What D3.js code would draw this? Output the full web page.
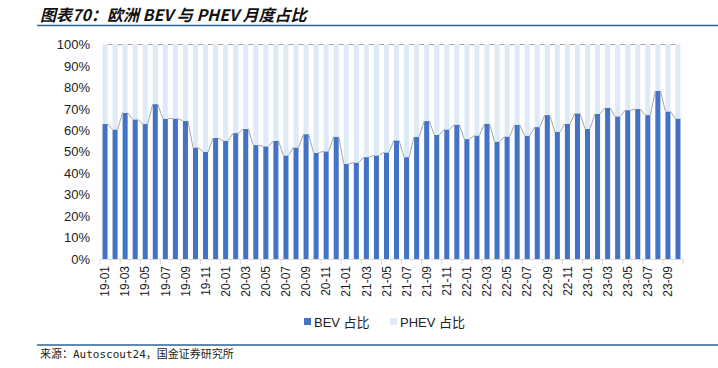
<!DOCTYPE html>
<html>
<head>
<meta charset="utf-8">
<script src="https://cdn.jsdelivr.net/npm/d3@7"></script>
<style>
  body { margin: 0; background: #fff; }
  svg { display: block; }
</style>
</head>
<body>
<script>
// monthly share of BEV vs PHEV in Europe, 2019-01 .. 2023-10
var months = ["19-01","19-02","19-03","19-04","19-05","19-06","19-07","19-08","19-09","19-10","19-11","19-12",
              "20-01","20-02","20-03","20-04","20-05","20-06","20-07","20-08","20-09","20-10","20-11","20-12",
              "21-01","21-02","21-03","21-04","21-05","21-06","21-07","21-08","21-09","21-10","21-11","21-12",
              "22-01","22-02","22-03","22-04","22-05","22-06","22-07","22-08","22-09","22-10","22-11","22-12",
              "23-01","23-02","23-03","23-04","23-05","23-06","23-07","23-08","23-09","23-10"];

var bevShare = [63.0,60.4,68.2,65.1,63.0,72.2,65.4,65.5,64.4,52.0,50.0,56.4,
                55.1,58.7,60.6,53.1,52.5,55.1,48.3,52.0,58.2,49.5,50.2,57.0,
                44.4,45.0,47.5,48.3,49.7,55.3,47.5,57.0,64.3,57.9,60.4,62.6,
                55.9,57.6,63.1,54.7,57.1,62.6,57.5,61.5,67.1,59.2,63.0,67.9,
                60.7,67.7,70.5,66.5,69.4,69.9,67.1,78.4,68.8,65.5];

var phevShare = [37.0,39.6,31.8,34.9,37.0,27.8,34.6,34.5,35.6,48.0,50.0,43.6,
                 44.9,41.3,39.4,46.9,47.5,44.9,51.7,48.0,41.8,50.5,49.8,43.0,
                 55.6,55.0,52.5,51.7,50.3,44.7,52.5,43.0,35.7,42.1,39.6,37.4,
                 44.1,42.4,36.9,45.3,42.9,37.4,42.5,38.5,32.9,40.8,37.0,32.1,
                 39.3,32.3,29.5,33.5,30.6,30.1,32.9,21.6,31.2,34.5];

var yTicks = [0,10,20,30,40,50,60,70,80,90,100];
var seriesNames = ["BEV 占比", "PHEV 占比"];
var colors = ["#4472c4", "#deebf7"];

var W = 718, H = 368;
var svg = d3.select("body").append("svg")
    .attr("width", W)
    .attr("height", H);

// title + rules
svg.append("text")
    .attr("x", 40)
    .attr("y", 21)
    .style("font-family", "'Noto Sans CJK SC', sans-serif")
    .style("font-size", "16px")
    .style("font-weight", "bold")
    .style("font-style", "italic")
    .style("fill", "#111")
    .text("图表70：欧洲 BEV 与 PHEV 月度占比");

svg.append("line")
    .attr("x1", 37).attr("x2", 718)
    .attr("y1", 25.5).attr("y2", 25.5)
    .style("stroke", "#2b6592")
    .style("stroke-width", 1.5);

svg.append("line")
    .attr("x1", 37).attr("x2", 718)
    .attr("y1", 345).attr("y2", 345)
    .style("stroke", "#2b6592")
    .style("stroke-width", 1.5);

svg.append("text")
    .attr("x", 40)
    .attr("y", 358)
    .style("font-family", "'DejaVu Sans Mono', 'Noto Sans CJK SC', monospace")
    .style("font-size", "11px")
    .style("fill", "#222")
    .text("来源：Autoscout24，国金证券研究所");

// scales
var x = d3.scaleBand()
    .domain(months)
    .range([100, 683])
    .paddingInner(0.5)
    .paddingOuter(0.25);

var y = d3.scaleLinear()
    .domain([0, 100])
    .range([259, 44.5]);

var bw = x.bandwidth();

// stacked bars
var stackData = months.map(function(m, i) {
  return {month: m, bev: bevShare[i], phev: phevShare[i]};
});
var stack = d3.stack().keys(["bev", "phev"]);
var layers = stack(stackData);

svg.selectAll(".layer")
    .data(layers)
  .enter().append("g")
    .attr("class", "layer")
    .style("fill", function(d, i) { return colors[i]; })
  .selectAll("rect")
    .data(function(d) { return d; })
  .enter().append("rect")
    .attr("x", function(d) { return x(d.data.month); })
    .attr("width", bw)
    .attr("y", function(d) { return y(d[1]); })
    .attr("height", function(d) { return y(d[0]) - y(d[1]); });

// series lines between neighbouring bar tops
layers.forEach(function(layer) {
  var segs = [];
  for (var i = 0; i < layer.length - 1; i++) {
    segs.push([layer[i], layer[i + 1]]);
  }
  svg.append("g")
    .selectAll("line")
    .data(segs)
    .enter().append("line")
      .attr("x1", function(d) { return x(d[0].data.month) + bw; })
      .attr("x2", function(d) { return x(d[1].data.month); })
      .attr("y1", function(d) { return y(d[0][1]); })
      .attr("y2", function(d) { return y(d[1][1]); })
      .style("stroke", "#a6a6a6")
      .style("stroke-width", 1);
});

// y axis
var yAxis = d3.axisLeft(y)
    .tickValues(yTicks)
    .tickFormat(function(d) { return d + "%"; })
    .tickSize(0)
    .tickPadding(10);

var gy = svg.append("g")
    .attr("transform", "translate(100,0)")
    .call(yAxis);
gy.select(".domain").remove();
gy.selectAll("text")
    .style("font-family", "'Liberation Sans', Arial, sans-serif")
    .style("font-size", "13px")
    .style("fill", "#222");

// x axis
var xAxis = d3.axisBottom(x)
    .tickValues(months.filter(function(d, i) { return i % 2 === 0; }))
    .tickSize(0)
    .tickPadding(0);

var gx = svg.append("g")
    .attr("transform", "translate(0,259)")
    .call(xAxis);
gx.select(".domain")
    .style("stroke", "#d9d9d9");
gx.selectAll("text")
    .attr("transform", "rotate(-90)")
    .attr("x", -7)
    .attr("y", 0)
    .attr("dy", "0.35em")
    .style("text-anchor", "end")
    .style("font-family", "'Liberation Sans', Arial, sans-serif")
    .style("font-size", "12px")
    .style("fill", "#222");

// tick marks on category boundaries, every 2 months
var step = x.step();
var bounds = d3.range(0, months.length + 1, 2);
gx.selectAll(".bound")
    .data(bounds)
  .enter().append("line")
    .attr("class", "bound")
    .attr("x1", function(d) { return 100 + d * step; })
    .attr("x2", function(d) { return 100 + d * step; })
    .attr("y1", 0)
    .attr("y2", 5)
    .style("stroke", "#d9d9d9");

// legend
var legend = svg.selectAll(".legend")
    .data(seriesNames)
  .enter().append("g")
    .attr("class", "legend")
    .attr("transform", function(d, i) { return "translate(" + (304 + i * 86) + ",322)"; });

legend.append("rect")
    .attr("x", 0)
    .attr("y", -4)
    .attr("width", 7)
    .attr("height", 7)
    .style("fill", function(d, i) { return colors[i]; });

legend.append("text")
    .attr("x", 10)
    .attr("y", 0)
    .attr("dy", "0.35em")
    .style("font-family", "'Liberation Sans', 'Noto Sans CJK SC', sans-serif")
    .style("font-size", "13px")
    .style("fill", "#222")
    .text(function(d) { return d; });
</script>
</body>
</html>
